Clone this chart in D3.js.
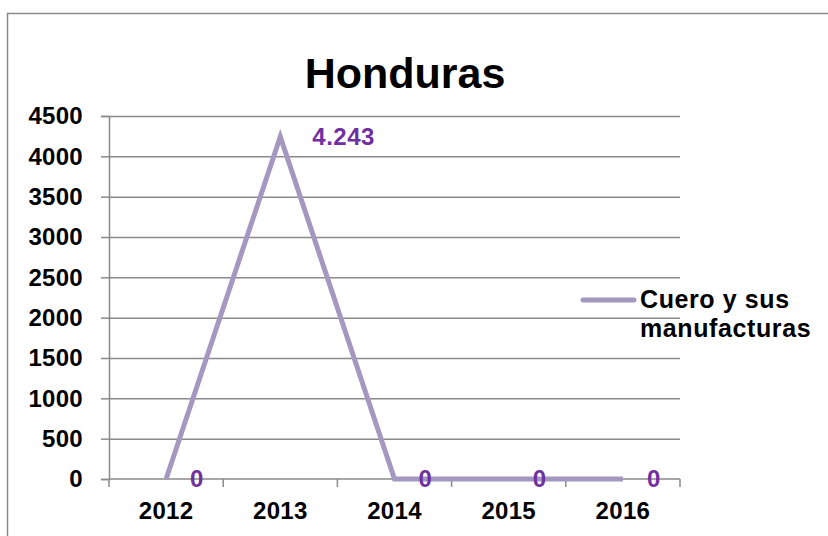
<!DOCTYPE html>
<html lang="es">
<head>
<meta charset="UTF-8">
<title>Honduras</title>
<script src="https://cdnjs.cloudflare.com/ajax/libs/d3/7.8.5/d3.min.js"></script>
<style>
    body { margin: 0; background: #fff; }
    svg { display: block; font-family: "Liberation Sans", Arial, sans-serif; font-weight: bold; }
</style>
</head>
<body>
<div id="chart"></div>
<script>
    // Data
    const years = ["2012", "2013", "2014", "2015", "2016"];
    const values = [0, 4243, 0, 0, 0];
    const labels = ["0", "4.243", "0", "0", "0"];
    const yTicks = [0, 500, 1000, 1500, 2000, 2500, 3000, 3500, 4000, 4500];
    const seriesName = ["Cuero y sus", "manufacturas"];

    const width = 828, height = 536;
    const plot = { left: 109, right: 680, top: 116, bottom: 479 };
    const lineColor = "#a598c0";
    const labelColor = "#7030a0";
    const gridColor = "#8a8a8a";

    const svg = d3.select("#chart").append("svg")
        .attr("width", width)
        .attr("height", height);

    // outer chart border (runs off the right and bottom edges)
    svg.append("rect")
        .attr("x", 7.5).attr("y", 13.5)
        .attr("width", 900).attr("height", 600)
        .attr("fill", "none")
        .attr("stroke", gridColor)
        .attr("stroke-width", 1.5);

    const x = d3.scaleBand()
        .domain(years)
        .range([plot.left, plot.right]);

    const y = d3.scaleLinear()
        .domain([0, 4500])
        .range([plot.bottom, plot.top]);

    // title
    svg.append("text")
        .attr("x", 405).attr("y", 88)
        .attr("text-anchor", "middle")
        .style("font-size", "43px")
        .text("Honduras");

    // gridlines + y axis
    const yAxis = d3.axisLeft(y)
        .tickValues(yTicks)
        .tickSize(8)
        .tickPadding(18)
        .tickFormat(d3.format("d"));

    const gy = svg.append("g")
        .attr("transform", `translate(${plot.left},0)`)
        .call(yAxis);
    gy.select(".domain").attr("stroke", gridColor).attr("stroke-width", 1.5);
    gy.selectAll(".tick line").attr("stroke", gridColor).attr("stroke-width", 1.5);
    gy.selectAll(".tick text")
        .attr("fill", "#000")
        .style("font-size", "24px")
        .style("letter-spacing", "0.3px")
        .style("font-family", "Liberation Sans, Arial, sans-serif");

    gy.selectAll(".tick").filter(d => d > 0)
        .append("line")
        .attr("x1", 0).attr("x2", plot.right - plot.left)
        .attr("stroke", gridColor).attr("stroke-width", 1.5);

    // x axis with ticks on band edges
    const gx = svg.append("g")
        .attr("transform", `translate(0,${plot.bottom})`);
    gx.append("line")
        .attr("x1", plot.left).attr("x2", plot.right)
        .attr("stroke", gridColor).attr("stroke-width", 1.5);
    const edges = years.map(d => x(d)).concat([x(years[years.length - 1]) + x.bandwidth()]);
    gx.selectAll(".edge").data(edges).join("line")
        .attr("x1", d => d).attr("x2", d => d)
        .attr("y1", 0).attr("y2", 8)
        .attr("stroke", gridColor).attr("stroke-width", 1.5);
    gx.selectAll(".xl").data(years).join("text")
        .attr("x", d => x(d) + x.bandwidth() / 2)
        .attr("y", 40)
        .attr("text-anchor", "middle")
        .style("font-size", "24px")
        .style("letter-spacing", "0.3px")
        .text(d => d);

    // series line
    const pts = years.map((yr, i) => ({ year: yr, value: values[i], label: labels[i] }));
    const line = d3.line()
        .x(d => x(d.year) + x.bandwidth() / 2)
        .y(d => y(d.value));

    svg.append("path")
        .datum(pts)
        .attr("d", line)
        .attr("fill", "none")
        .attr("stroke", lineColor)
        .attr("stroke-width", 5)
        .attr("stroke-linejoin", "miter");

    // data labels to the right of each point
    svg.selectAll(".dl").data(pts).join("text")
        .attr("x", d => x(d.year) + x.bandwidth() / 2 + (d.value > 0 ? 32 : 24))
        .attr("y", d => y(d.value))
        .attr("dy", "0.35em")
        .attr("fill", labelColor)
        .style("font-size", "24px")
        .style("letter-spacing", "0.5px")
        .text(d => d.label);

    // legend
    const lg = svg.append("g");
    lg.append("line")
        .attr("x1", 583).attr("x2", 634)
        .attr("y1", 300).attr("y2", 300)
        .attr("stroke", lineColor)
        .attr("stroke-width", 5)
        .attr("stroke-linecap", "round");
    lg.selectAll("text").data(seriesName).join("text")
        .attr("x", 640)
        .attr("y", (d, i) => 308 + i * 29)
        .style("font-size", "25px")
        .style("letter-spacing", "0.6px")
        .text(d => d);
</script>
</body>
</html>
